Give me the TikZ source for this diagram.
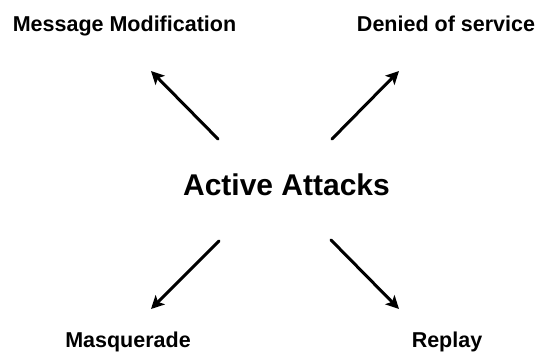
\documentclass[tikz,border=0pt]{standalone}
\usepackage{fontspec}
\setmainfont{Liberation Sans}
\usetikzlibrary{arrows.meta}
\begin{document}
\begin{tikzpicture}[x=1pt,y=1pt,
  label text/.style={font=\fontsize{21.5}{24}\selectfont\bfseries, anchor=base, inner sep=0pt},
  hub text/.style={font=\fontsize{30}{34}\selectfont\bfseries, anchor=base, inner sep=0pt},
  attack arrow/.style={line width=3pt, line cap=round, -{Stealth[length=13pt,width=13pt,inset=3pt]}}]
  \useasboundingbox (0,0) rectangle (540,351);
  % centre label and the four kinds of attack
  \node[hub text]   (hub)  at (286.5,156) {Active Attacks};
  \node[label text] (mod)  at (124.5,319.5) {Message Modification};
  \node[label text] (dos)  at (446,319.5) {Denied of service};
  \node[label text] (masq) at (128,3.5) {Masquerade};
  \node[label text] (rep)  at (447,3.5) {Replay};
  % arrow ends
  \coordinate (tlA) at (218,212);  \coordinate (tlB) at (151,280);
  \coordinate (trA) at (332,212);  \coordinate (trB) at (399,280);
  \coordinate (blA) at (219,110);  \coordinate (blB) at (151,42);
  \coordinate (brA) at (331,111);  \coordinate (brB) at (399,42);
  \draw[attack arrow] (tlA) -- (tlB);
  \draw[attack arrow] (trA) -- (trB);
  \draw[attack arrow] (blA) -- (blB);
  \draw[attack arrow] (brA) -- (brB);
\end{tikzpicture}
\end{document}
